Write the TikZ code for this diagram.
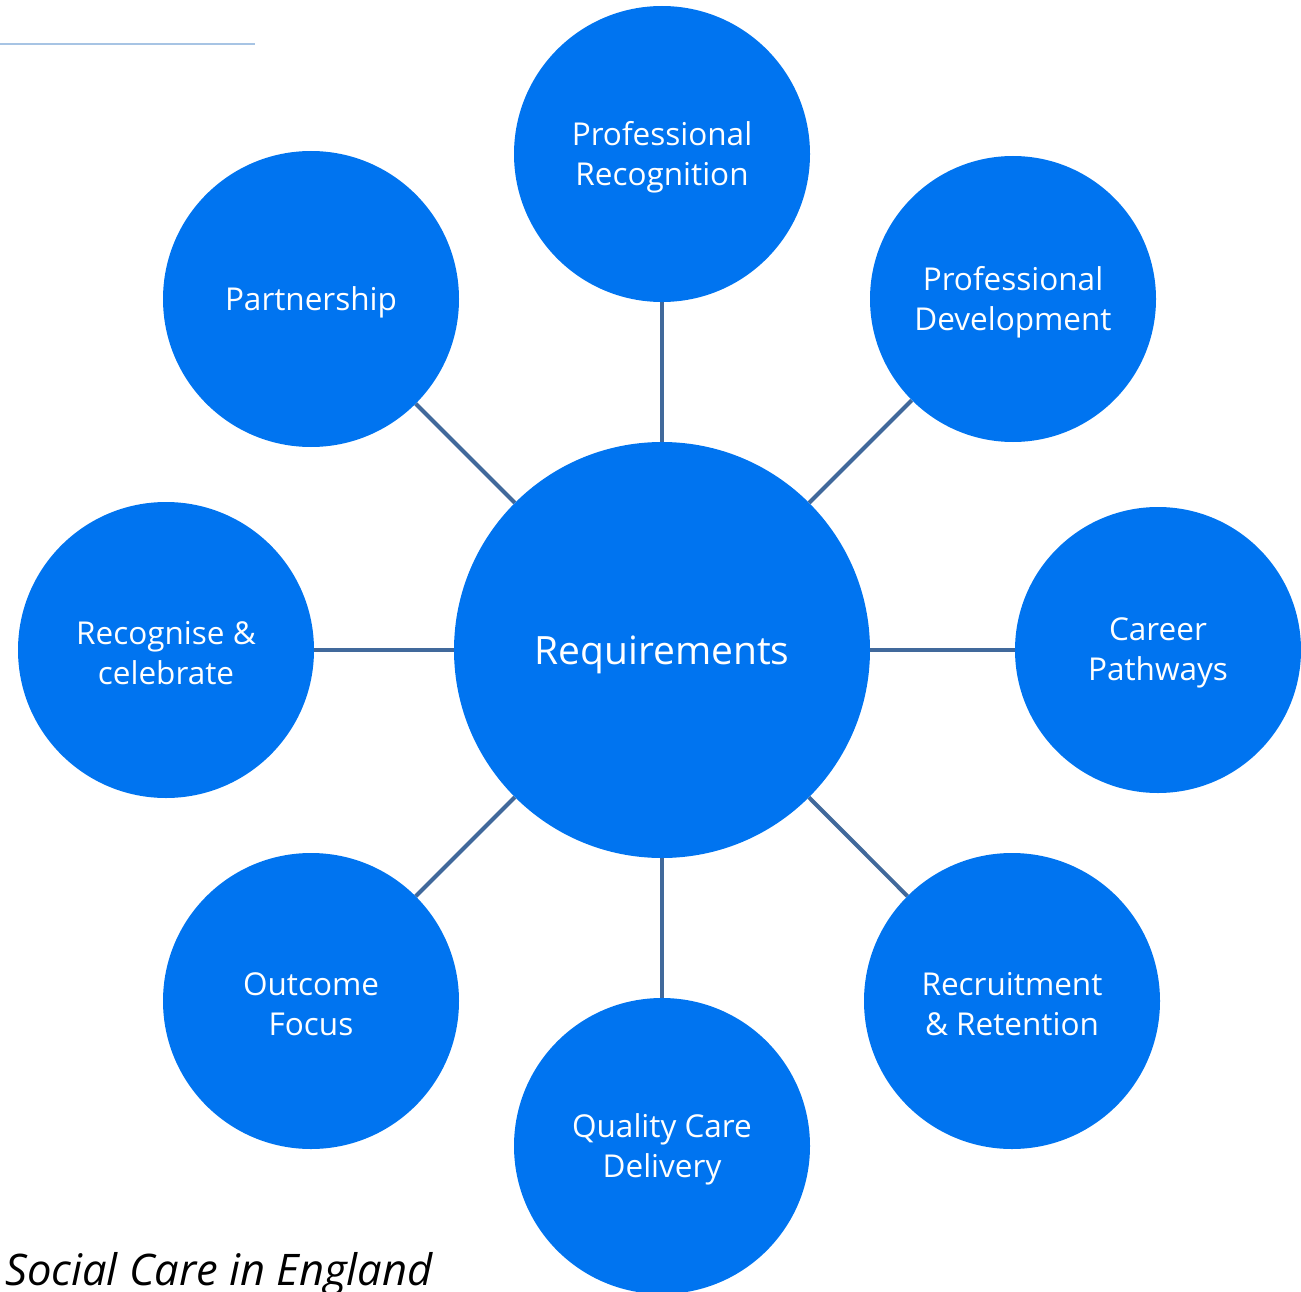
\documentclass[tikz,border=0pt]{standalone}
\usepackage{fontspec}
\setmainfont{Open Sans}
\definecolor{circblue}{RGB}{0,116,240}
\definecolor{linkblue}{RGB}{65,105,155}
\definecolor{ruleblue}{RGB}{167,196,228}
\begin{document}
\begin{tikzpicture}[x=1pt,y=-1pt,
  hub/.style={circle,fill=circblue,draw=none,inner sep=0pt,minimum size=416pt},
  spoke/.style={circle,fill=circblue,draw=none,inner sep=0pt,minimum size=296pt},
  hubtxt/.style={text=white,font=\fontsize{39}{46}\selectfont,align=center,inner sep=0pt,yshift=-5pt},
  txt/.style={text=white,font=\fontsize{31.5}{40}\selectfont,align=center,inner sep=0pt,yshift=-3pt},
  link/.style={draw=linkblue,line width=4pt}]
\useasboundingbox (0,0) rectangle (1301,1292);
\draw[ruleblue,line width=2pt] (0,44) -- (255,44);
\node[hub,label={[hubtxt]center:Requirements}] (req) at (662,650) {};
\node[spoke,label={[txt]center:Professional\\Recognition}] (pr) at (662,154) {};
\node[spoke,minimum size=286pt,label={[txt]center:Professional\\Development}] (pd) at (1013,299) {};
\node[spoke,minimum size=286pt,label={[txt]center:Career\\Pathways}] (cp) at (1158,650) {};
\node[spoke,label={[txt]center:Recruitment\\\& Retention}] (rr) at (1012,1001) {};
\node[spoke,label={[txt]center:Quality Care\\Delivery}] (qc) at (662,1146) {};
\node[spoke,label={[txt]center:Outcome\\Focus}] (of) at (311,1001) {};
\node[spoke,label={[txt]center:Recognise \&\\celebrate}] (rc) at (166,650) {};
\node[spoke,label={[txt]center:Partnership}] (pa) at (311,299) {};
\foreach \n in {pr,pd,cp,rr,qc,of,rc,pa}{\draw[link] (req) -- (\n);}
\node[anchor=base west,inner sep=0pt,font=\fontsize{43.5}{50}\selectfont\itshape] (title) at (5,1285) {Social Care in England};
\end{tikzpicture}
\end{document}
